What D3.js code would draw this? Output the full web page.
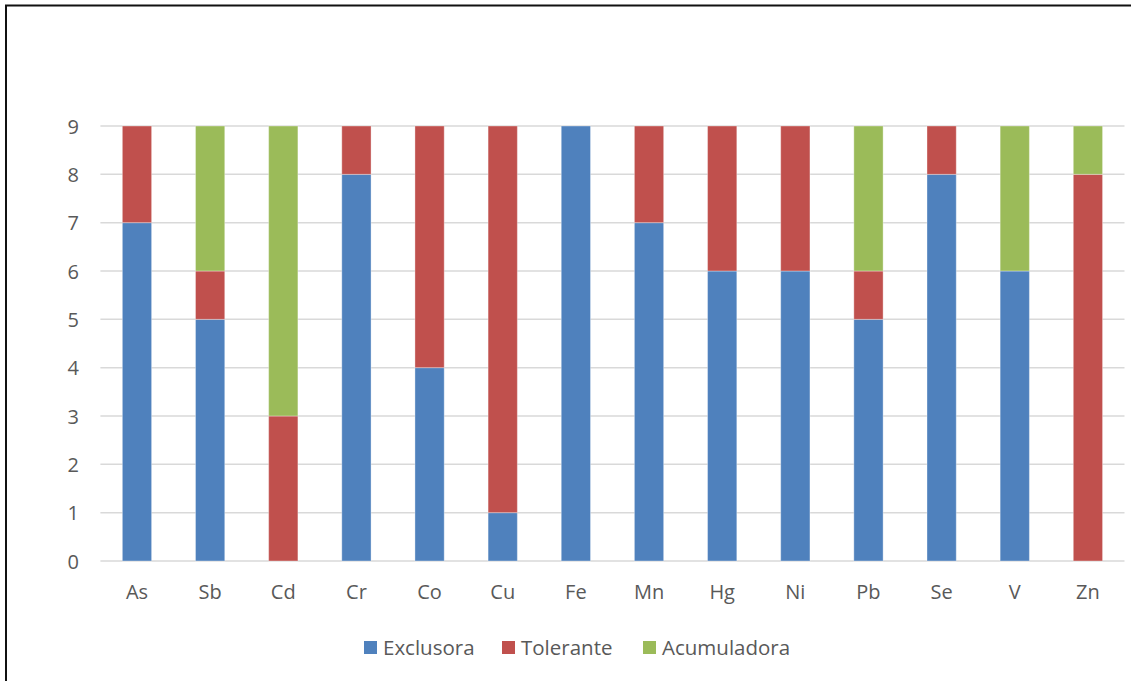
<!DOCTYPE html>
<html><head><meta charset="utf-8">
<script src="https://cdn.jsdelivr.net/npm/d3@7"></script>
<style>body{margin:0;background:#fff;} svg{display:block;}</style>
</head><body>
<svg id="c" width="1131" height="681"></svg>
<script>
const categories = ["As","Sb","Cd","Cr","Co","Cu","Fe","Mn","Hg","Ni","Pb","Se","V","Zn"];
const exclusora   = [7,5,0,8,4,1,9,7,6,6,5,8,6,0];
const tolerante   = [2,1,3,1,5,8,0,2,3,3,1,1,0,8];
const acumuladora = [0,3,6,0,0,0,0,0,0,0,3,0,3,1];
const seriesNames = ["Exclusora","Tolerante","Acumuladora"];
const colors = ["#4F81BD","#C0504D","#9BBB59"];
const yTicks = [0,1,2,3,4,5,6,7,8,9];

const svg = d3.select("#c");
const font = "'Open Sans', sans-serif";
svg.append("rect").attr("x",0).attr("y",0).attr("width",1131).attr("height",681).attr("fill","#fff");
// outer border (left & top visible)
svg.append("path").attr("d","M6,690 L6,5.5 L1140,5.5").attr("fill","none").attr("stroke","#111").attr("stroke-width",2);

const x = d3.scaleBand().domain(categories).range([100.4,1124.5]).paddingInner(0.6).paddingOuter(0.3);
const y = d3.scaleLinear().domain([0,9]).range([561,126]);

// grid
svg.append("g").selectAll("line").data(yTicks).join("line")
  .attr("x1",100.4).attr("x2",1124.5)
  .attr("y1",d=>y(d)).attr("y2",d=>y(d))
  .attr("stroke","#D9D9D9").attr("stroke-width",1.5);

const data = categories.map((c,i)=>({cat:c, Exclusora:exclusora[i], Tolerante:tolerante[i], Acumuladora:acumuladora[i]}));
const stack = d3.stack().keys(seriesNames)(data);

svg.append("g").selectAll("g").data(stack).join("g")
  .attr("fill",(d,i)=>colors[i])
  .selectAll("rect").data(d=>d.filter(s=>s[1]-s[0]>0)).join("rect")
  .attr("x",d=>x(d.data.cat)).attr("width",x.bandwidth())
  .attr("y",d=>y(d[1])).attr("height",d=>y(d[0])-y(d[1]))
  .attr("stroke","rgba(255,255,255,0.35)").attr("stroke-width",1);

// y axis labels
const yAxis = d3.axisLeft(y).tickValues(yTicks).tickSize(0).tickPadding(0).tickFormat(d3.format("d"));
const ya = svg.append("g").attr("transform","translate(79,0)").call(yAxis);
ya.select(".domain").remove();
ya.selectAll("text").attr("font-family",font).attr("font-size",20).attr("fill","#595959").attr("dy","0.35em");

// x axis labels
const xAxis = d3.axisBottom(x).tickSize(0).tickPadding(0);
const xa = svg.append("g").attr("transform","translate(0,599)").call(xAxis);
xa.select(".domain").remove();
xa.selectAll("text").attr("font-family",font).attr("font-size",20).attr("fill","#595959").attr("dy",0);

// legend
const legX = [364,502,643];
const lg = svg.append("g").selectAll("g").data(seriesNames).join("g")
  .attr("transform",(d,i)=>`translate(${legX[i]},641)`);
lg.append("rect").attr("width",13).attr("height",13).attr("fill",(d,i)=>colors[i]);
lg.append("text").attr("x",19).attr("y",13.5).text(d=>d)
  .attr("font-family",font).attr("font-size",20.5).attr("fill","#595959");
</script>
</body></html>
